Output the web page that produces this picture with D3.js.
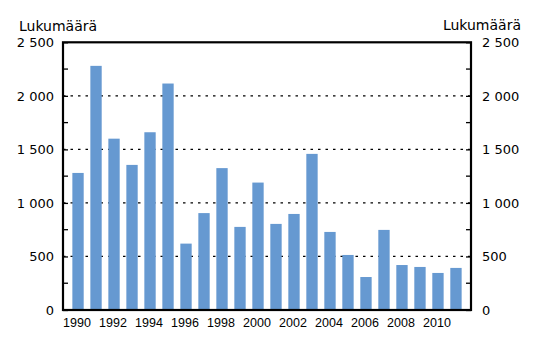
<!DOCTYPE html>
<html><head><meta charset="utf-8">
<script src="https://cdn.jsdelivr.net/npm/d3@7"></script>
<style>body{margin:0;background:#fff}svg{display:block}</style>
</head><body>
<script>
const years = [1990,1991,1992,1993,1994,1995,1996,1997,1998,1999,2000,2001,2002,2003,2004,2005,2006,2007,2008,2009,2010,2011];
const counts = [1280,2280,1600,1355,1660,2115,620,905,1325,776,1190,804,897,1458,729,514,308,748,420,402,346,393];
const yTicks = [0,500,1000,1500,2000,2500];
const yMinor = [250,750,1250,1750,2250];
const yTickLabels = ["0","500","1 000","1 500","2 000","2 500"];
const xLabelYears = [1990,1992,1994,1996,1998,2000,2002,2004,2006,2008,2010];
const axisTitle = "Lukumäärä";

const W = 544, H = 337;
const L = 63, R = 471, T = 42.3, B = 310;
const svg = d3.select("body").append("svg").attr("width", W).attr("height", H);

const x = d3.scaleBand().domain(years).range([L, R]).paddingInner(0.37).paddingOuter(0.52);
const y = d3.scaleLinear().domain([0, 2500]).range([B, T]);

// dotted gridlines
svg.append("g").selectAll("line").data(yTicks.filter(v => v > 0 && v < 2500)).join("line")
  .attr("x1", L).attr("x2", R).attr("y1", d => y(d)).attr("y2", d => y(d))
  .attr("stroke", "#000").attr("stroke-width", 1.2).attr("stroke-dasharray", "2.5,5");

// bars
svg.append("g").selectAll("rect").data(years).join("rect")
  .attr("x", d => x(d)).attr("width", x.bandwidth())
  .attr("y", (d, i) => y(counts[i])).attr("height", (d, i) => B - y(counts[i]))
  .attr("fill", "#6699d1");

// axes (ticks inward)
const fontY = "'DejaVu Sans', Verdana, sans-serif";
const leftAxis = d3.axisLeft(y).tickValues(yTicks).tickFormat((d, i) => yTickLabels[i]).tickSizeInner(-5).tickSizeOuter(0).tickPadding(9);
const rightAxis = d3.axisRight(y).tickValues(yTicks).tickFormat((d, i) => yTickLabels[i]).tickSizeInner(-5).tickSizeOuter(0).tickPadding(11);
const gl = svg.append("g").attr("transform", `translate(${L},0)`).call(leftAxis);
const gr = svg.append("g").attr("transform", `translate(${R},0)`).call(rightAxis);
[gl, gr].forEach(g => {
  g.select(".domain").remove();
  g.selectAll(".tick line").attr("stroke", "#000").attr("stroke-width", 1.3);
  g.selectAll(".tick text").attr("font-family", fontY).attr("font-size", 13).attr("fill", "#000");
});
// minor ticks
svg.append("g").selectAll("line").data(yMinor).join("line")
  .attr("x1", L).attr("x2", L + 5).attr("y1", d => y(d)).attr("y2", d => y(d))
  .attr("stroke", "#000").attr("stroke-width", 1.3);
svg.append("g").selectAll("line").data(yMinor).join("line")
  .attr("x1", R - 5).attr("x2", R).attr("y1", d => y(d)).attr("y2", d => y(d))
  .attr("stroke", "#000").attr("stroke-width", 1.3);

// frame
svg.append("rect").attr("x", L).attr("y", T).attr("width", R - L).attr("height", B - T)
  .attr("fill", "none").attr("stroke", "#000").attr("stroke-width", 2.2);

// x labels
const xAxis = d3.axisBottom(x).tickValues(xLabelYears).tickSize(0).tickPadding(8);
const gx = svg.append("g").attr("transform", `translate(0,${B})`).call(xAxis);
gx.select(".domain").remove();
gx.selectAll(".tick text").attr("font-family", "'Liberation Sans', Arial, sans-serif").attr("font-size", 12.5).attr("fill", "#000").attr("dx", -1);

// axis titles
svg.append("text").attr("x", 19).attr("y", 31).text(axisTitle)
  .attr("font-family", fontY).attr("font-size", 14).attr("fill", "#000");
svg.append("text").attr("x", 521).attr("y", 30).attr("text-anchor", "end").text(axisTitle)
  .attr("font-family", fontY).attr("font-size", 14).attr("fill", "#000");
</script>
</body></html>
